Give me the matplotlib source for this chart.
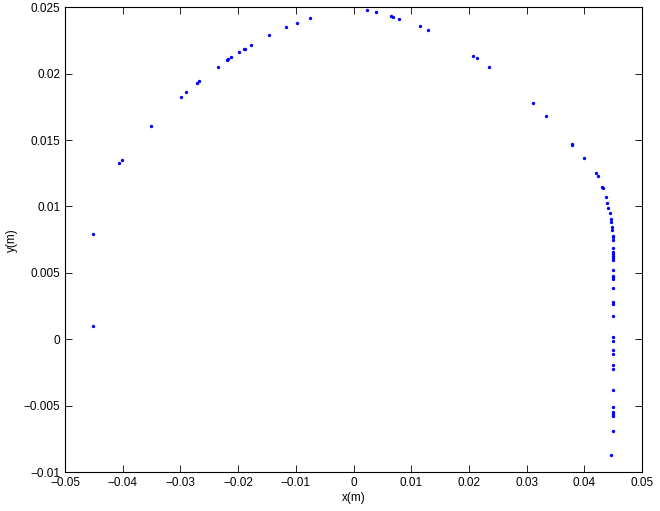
import matplotlib
matplotlib.use("Agg")
import matplotlib.pyplot as plt
import numpy as np

x_vals = [-0.04515, -0.04515, -0.04059, -0.04012, -0.03504, -0.02995, -0.02903, -0.02707,
          -0.02678, -0.02343, -0.02192, -0.02170, -0.02123, -0.01990, -0.01898, -0.01886,
          -0.01782, -0.01470, -0.01165, -0.00979, -0.00749,
          0.00229, 0.00390, 0.00645, 0.00679, 0.00794, 0.01147, 0.01286, 0.02076, 0.02140,
          0.02354, 0.03106, 0.03336, 0.03787, 0.03792, 0.03990, 0.04198, 0.04232, 0.04312,
          0.04319, 0.04371, 0.04399, 0.04416, 0.04440, 0.04458, 0.04468, 0.04480, 0.04485,
          0.04492, 0.04492, 0.04497, 0.04503, 0.04503, 0.04503, 0.04503, 0.04503, 0.04503,
          0.04503, 0.04503, 0.04503, 0.04503, 0.04503, 0.04503, 0.04503, 0.04503, 0.04503,
          0.04503, 0.04503, 0.04503, 0.04503, 0.04503, 0.04503, 0.04503, 0.04503, 0.04503,
          0.04503, 0.04503, 0.04463]
y_vals = [0.00792, 0.00099, 0.01329, 0.01352, 0.01606, 0.01822, 0.01860, 0.01932,
          0.01943, 0.02052, 0.02101, 0.02108, 0.02123, 0.02161, 0.02184, 0.02188,
          0.02216, 0.02289, 0.02352, 0.02384, 0.02419,
          0.02482, 0.02464, 0.02434, 0.02429, 0.02414, 0.02357, 0.02327, 0.02135, 0.02118,
          0.02052, 0.01779, 0.01681, 0.01470, 0.01465, 0.01367, 0.01252, 0.01229, 0.01149,
          0.01141, 0.01069, 0.01028, 0.00986, 0.00948, 0.00905, 0.00885, 0.00843, 0.00820,
          0.00780, 0.00768, 0.00747, 0.00689, 0.00657, 0.00642, 0.00627, 0.00609, 0.00594,
          0.00523, 0.00478, 0.00468, 0.00456, 0.00386, 0.00280, 0.00263, 0.00172, 0.00014,
          -0.00016, -0.00079, -0.00109, -0.00194, -0.00222, -0.00383, -0.00513, -0.00548,
          -0.00561, -0.00576, -0.00694, -0.00874]

x_ticks = [-0.05, -0.04, -0.03, -0.02, -0.01, 0, 0.01, 0.02, 0.03, 0.04, 0.05]
x_tick_labels = ["\u22120.05", "\u22120.04", "\u22120.03", "\u22120.02", "\u22120.01", "0",
                 "0.01", "0.02", "0.03", "0.04", "0.05"]
y_ticks = [-0.01, -0.005, 0, 0.005, 0.01, 0.015, 0.02, 0.025]
y_tick_labels = ["\u22120.01", "\u22120.005", "0", "0.005", "0.01", "0.015", "0.02", "0.025"]

plt.rcParams['font.family'] = ['Liberation Sans', 'DejaVu Sans']

fig = plt.figure(figsize=(6.6, 5.11), dpi=100)
ax = fig.add_axes([65/660, 39/511, 577/660, 464.7/511])
ax.plot(x_vals, y_vals, linestyle='none', marker='.', markersize=2.8, color='#0000ff')
ax.set_xlim(-0.05, 0.05)
ax.set_ylim(-0.01, 0.025)
ax.set_xticks(x_ticks)
ax.set_xticklabels(x_tick_labels)
ax.set_yticks(y_ticks)
ax.set_yticklabels(y_tick_labels)
ax.tick_params(direction='in', top=True, right=True, labelsize=8.5, length=5, width=0.6)
for s in ax.spines.values():
    s.set_linewidth(0.8)
ax.set_xlabel("x(m)", fontsize=8.5, labelpad=2)
ax.set_ylabel("y(m)", fontsize=8.5, labelpad=4)
fig.savefig("out.png", dpi=100)
